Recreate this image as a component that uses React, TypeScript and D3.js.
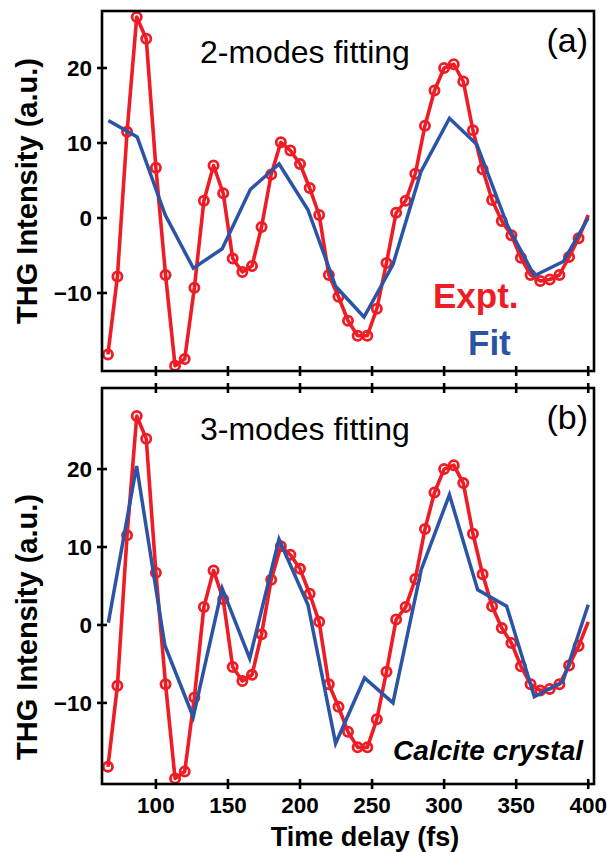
import React from "react";
import * as d3 from "d3";

// measured THG signal (same in both panels)
const delay = [
  66.7, 73.3, 80, 86.7, 93.3, 100, 106.7, 113.3, 120, 126.7, 133.3, 140, 146.7,
  153.3, 160, 166.7, 173.3, 180, 186.7, 193.3, 200, 206.7, 213.3, 220, 226.7,
  233.3, 240, 246.7, 253.3, 260, 266.7, 273.3, 280, 286.7, 293.3, 300, 306.7,
  313.3, 320, 326.7, 333.3, 340, 346.7, 353.3, 360, 366.7, 373.3, 380, 386.7,
  393.3, 400,
];
const expt = [
  -18.2, -7.8, 11.5, 26.8, 23.9, 6.7, -7.6, -19.7, -18.8, -9.3, 2.3, 7.0, 3.3,
  -5.4, -7.2, -6.4, -1.2, 5.8, 10.1, 9.0, 7.2, 4.0, 0.4, -7.6, -10.5, -13.7,
  -15.7, -15.7, -12.1, -6.0, 0.7, 2.3, 5.9, 12.3, 17.0, 20.0, 20.5, 18.2, 11.7,
  6.5, 2.4, -0.4, -2.3, -5.3, -7.6, -8.4, -8.2, -7.6, -5.2, -2.7, 0.4,
];

// 2-modes fit
const fit2Delay = [67, 87, 106.5, 126, 146, 165.5, 185.5, 205.5, 224.7, 244.4, 264.5, 284, 303.7, 322.7, 344, 362.6, 382.7, 400];
const fit2 = [13.0, 10.8, 0.4, -6.7, -4.1, 3.8, 7.2, 1.1, -9.1, -13.2, -6.2, 6.2, 13.3, 9.8, -1.0, -7.7, -5.8, 0.0];

// 3-modes fit
const fit3Delay = [67, 86.6, 106.2, 125.9, 146, 165.1, 185.4, 205.5, 224.7, 244.8, 264.5, 284.1, 303.7, 323.3, 343.4, 362.6, 382.3, 400];
const fit3 = [0.3, 20.4, -2.6, -11.8, 4.7, -4.3, 11.0, 2.6, -15.2, -6.8, -10.0, 7.1, 16.7, 4.5, 2.4, -9.2, -7.3, 2.6];

const xTicks = [100, 150, 200, 250, 300, 350, 400];
const yTicks = [-10, 0, 10, 20];

const RED = "#ee1d25";
const BLUE = "#2b54a6";
const FONT = "'Liberation Sans', Arial, Helvetica, sans-serif";

const left = 102;
const right = 594;

const x = d3.scaleLinear().domain([62.6, 404]).range([left, right]);

type PanelProps = {
  top: number;
  bottom: number;
  yDomain: [number, number];
  fitX: number[];
  fitY: number[];
  label: string;
  tag: string;
  showX: boolean;
};

function Panel({ top, bottom, yDomain, fitX, fitY, label, tag, showX }: PanelProps) {
  const y = d3.scaleLinear().domain(yDomain).range([bottom, top]);
  const exptPath = d3
    .line<number>()
    .x((d) => x(d))
    .y((d, i) => y(expt[i]))(delay);
  const fitPath = d3
    .line<number>()
    .x((d) => x(d))
    .y((d, i) => y(fitY[i]))(fitX);

  return (
    <g>
      <path d={exptPath ?? ""} fill="none" stroke={RED} strokeWidth={3.6} strokeLinejoin="round" />
      {delay.slice(0, -1).map((d, i) => (
        <circle key={i} cx={x(d)} cy={y(expt[i])} r={4.6} fill="none" stroke={RED} strokeWidth={2.8} />
      ))}
      <path d={fitPath ?? ""} fill="none" stroke={BLUE} strokeWidth={3.5} strokeLinejoin="miter" />

      <rect x={left} y={top} width={right - left} height={bottom - top} fill="none" stroke="#000" strokeWidth={2.6} />

      {yTicks.map((t) => (
        <g key={t}>
          <line x1={left - 5} x2={left + 5} y1={y(t)} y2={y(t)} stroke="#000" strokeWidth={2.6} />
          <text x={92} y={y(t)} dy="0.36em" textAnchor="end" fontFamily={FONT} fontWeight="bold" fontSize={22.5}>
            {t < 0 ? "\u2212" + Math.abs(t) : t}
          </text>
        </g>
      ))}

      {xTicks.map((t) => (
        <g key={t}>
          <line x1={x(t)} x2={x(t)} y1={bottom - 5} y2={bottom + 5} stroke="#000" strokeWidth={2.6} />
          {tag === "(b)" && (
            <line x1={x(t)} x2={x(t)} y1={top - 5} y2={top + 5} stroke="#000" strokeWidth={2.6} />
          )}
          {showX && (
            <text x={x(t)} y={bottom + 29} textAnchor="middle" fontFamily={FONT} fontWeight="bold" fontSize={22.5}>
              {t}
            </text>
          )}
        </g>
      ))}

      <text x={200} y={top + 52} fontFamily={FONT} fontSize={32}>
        {label}
      </text>
      <text x={588} y={top + 41} textAnchor="end" fontFamily={FONT} fontSize={34}>
        {tag}
      </text>
      <text
        transform={`translate(37,${(top + bottom) / 2 + (tag === "(b)" ? 41 : 0)}) rotate(-90)`}
        textAnchor="middle"
        fontFamily={FONT}
        fontWeight="bold"
        fontSize={29}
      >
        THG Intensity (a.u.)
      </text>
    </g>
  );
}

export default function App() {
  return (
    <svg
      width={607}
      height={852}
      style={{ position: "absolute", left: 0, top: 0, background: "#fff" }}
    >
      <Panel top={11} bottom={371} yDomain={[-20.4, 27.6]} fitX={fit2Delay} fitY={fit2} label="2-modes fitting" tag="(a)" showX={false} />
      <Panel top={388} bottom={784} yDomain={[-20.4, 30.4]} fitX={fit3Delay} fitY={fit3} label="3-modes fitting" tag="(b)" showX={true} />

      <text x={433} y={308} fontFamily={FONT} fontWeight="bold" fontSize={35} fill={RED}>
        Expt.
      </text>
      <text x={468} y={355} fontFamily={FONT} fontWeight="bold" fontSize={35} fill={BLUE}>
        Fit
      </text>
      <text x={583} y={760} textAnchor="end" fontFamily={FONT} fontWeight="bold" fontStyle="italic" fontSize={28}>
        Calcite crystal
      </text>
      <text x={365} y={846} textAnchor="middle" fontFamily={FONT} fontWeight="bold" fontSize={27}>
        Time delay (fs)
      </text>
    </svg>
  );
}
